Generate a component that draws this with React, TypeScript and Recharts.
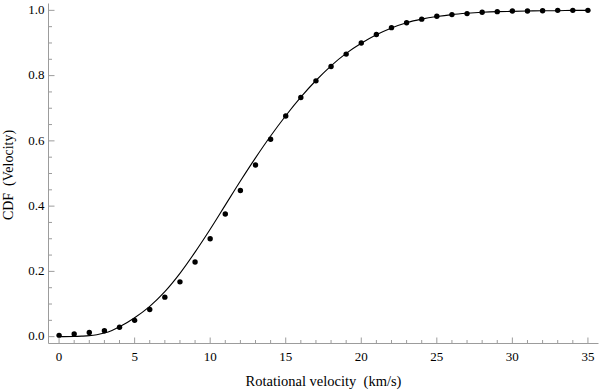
import React from 'react';
import { ComposedChart, XAxis, YAxis, Line, Scatter, Label } from 'recharts';

// Measured CDF points (dots)
const velocities = [
  0, 1, 2, 3, 4, 5, 6, 7, 8, 9, 10, 11, 12, 13, 14, 15, 16, 17,
  18, 19, 20, 21, 22, 23, 24, 25, 26, 27, 28, 29, 30, 31, 32, 33, 34, 35,
];
const cdfPoints = [
  0.004, 0.008, 0.013, 0.018, 0.029, 0.05, 0.083, 0.121, 0.168, 0.229, 0.3, 0.376,
  0.448, 0.526, 0.605, 0.676, 0.733, 0.784, 0.828, 0.866, 0.9, 0.926, 0.947, 0.962,
  0.973, 0.982, 0.987, 0.99, 0.994, 0.996, 0.998, 0.998, 0.999, 1.0, 1.0, 1.0,
];

// Model curve (solid line)
const curveVelocities = [
  0, 1, 1.5, 2, 2.5, 3, 3.5, 4, 5, 6, 7, 8, 9, 10, 11, 12, 13, 14, 15, 16, 17,
  18, 19, 20, 21, 22, 23, 24, 25, 26, 27, 28, 29, 30, 31, 32, 33, 34, 35,
];
const curveCdf = [
  0, 0.0005, 0.0015, 0.003, 0.006, 0.011, 0.019, 0.03, 0.058, 0.093, 0.138, 0.194,
  0.259, 0.329, 0.403, 0.477, 0.548, 0.615, 0.677, 0.734, 0.785, 0.83, 0.868, 0.899,
  0.925, 0.946, 0.962, 0.973, 0.981, 0.987, 0.991, 0.994, 0.996, 0.997, 0.998, 0.999,
  0.999, 1.0, 1.0,
];

const xMajorTicks = [0, 5, 10, 15, 20, 25, 30, 35];
const xTickLabels = ['0', '5', '10', '15', '20', '25', '30', '35'];
const xMinorTicks = [
  0, 1, 2, 3, 4, 5, 6, 7, 8, 9, 10, 11, 12, 13, 14, 15, 16, 17,
  18, 19, 20, 21, 22, 23, 24, 25, 26, 27, 28, 29, 30, 31, 32, 33, 34, 35,
];
const yMajorTicks = [0, 0.2, 0.4, 0.6, 0.8, 1.0];
const yTickLabels = ['0.0', '0.2', '0.4', '0.6', '0.8', '1.0'];
const yMinorTicks = [
  0, 0.05, 0.1, 0.15, 0.2, 0.25, 0.3, 0.35, 0.4, 0.45, 0.5, 0.55, 0.6, 0.65, 0.7,
  0.75, 0.8, 0.85, 0.9, 0.95, 1.0,
];
const xTitle = 'Rotational velocity  (km/s)';
const yTitle = 'CDF  (Velocity)';

const dotData = velocities.map((v, i) => ({ x: v, y: cdfPoints[i] }));
const curveData = curveVelocities.map((v, i) => ({ x: v, y: curveCdf[i] }));

const FRAME = '#9c9c9c';
const FONT = '"Liberation Serif", "Times New Roman", serif';
const MAJOR = 6;
const MINOR = 3.5;

function BottomTick(props: any) {
  const { x, y, payload } = props;
  const i = xMajorTicks.indexOf(payload.value);
  return (
    <g>
      <line x1={x} x2={x} y1={y} y2={y - (i >= 0 ? MAJOR : MINOR)} stroke={FRAME} strokeWidth={1} />
      {i >= 0 && (
        <text x={x} y={y + 17} textAnchor="middle" fontFamily={FONT} fontSize={13} fill="#000">
          {xTickLabels[i]}
        </text>
      )}
    </g>
  );
}

function TopTick(props: any) {
  const { x, y, payload } = props;
  const i = xMajorTicks.indexOf(payload.value);
  return <line x1={x} x2={x} y1={y} y2={y + (i >= 0 ? MAJOR : MINOR)} stroke={FRAME} strokeWidth={1} />;
}

function LeftTick(props: any) {
  const { x, y, payload } = props;
  const i = yMajorTicks.indexOf(payload.value);
  return (
    <g>
      <line x1={x} x2={x + (i >= 0 ? MAJOR : MINOR)} y1={y} y2={y} stroke={FRAME} strokeWidth={1} />
      {i >= 0 && (
        <text x={x - 4} y={y + 3.8} textAnchor="end" fontFamily={FONT} fontSize={13} fill="#000">
          {yTickLabels[i]}
        </text>
      )}
    </g>
  );
}

function RightTick(props: any) {
  const { x, y, payload } = props;
  const i = yMajorTicks.indexOf(payload.value);
  return <line x1={x} x2={x - (i >= 0 ? MAJOR : MINOR)} y1={y} y2={y} stroke={FRAME} strokeWidth={1} />;
}

function XTitle() {
  return (
    <text x={323.5} y={386} textAnchor="middle" fontFamily={FONT} fontSize={14.5} fill="#000" style={{ whiteSpace: 'pre' }}>
      {xTitle}
    </text>
  );
}

function YTitle() {
  return (
    <text
      x={13}
      y={175}
      transform="rotate(-90, 13, 175)"
      textAnchor="middle"
      fontFamily={FONT}
      fontSize={14}
      fill="#000"
      style={{ whiteSpace: 'pre' }}
    >
      {yTitle}
    </text>
  );
}

const Dot = (props: any) => <circle cx={props.cx} cy={props.cy} r={2.7} fill="#000" />;

export default function App() {
  const xDomain: [number, number] = [-0.7, 35.7];
  const yDomain: [number, number] = [-0.021, 1.021];
  return (
    <div style={{ width: 600, height: 391 }}>
      <style>{'body{margin:0;background:#fff}'}</style>
      <ComposedChart width={600} height={391} margin={{ top: 3.5, right: 1.5, bottom: 0, left: 0 }}>
        <XAxis
          xAxisId="bottom"
          dataKey="x"
          type="number"
          domain={xDomain}
          allowDataOverflow
          ticks={xMinorTicks}
          interval={0}
          height={47.5}
          tickSize={0}
          tickMargin={0}
          tickLine={false}
          axisLine={{ stroke: FRAME }}
          tick={<BottomTick />}
        >
          <Label content={<XTitle />} />
        </XAxis>
        <XAxis
          xAxisId="top"
          orientation="top"
          dataKey="x"
          type="number"
          domain={xDomain}
          allowDataOverflow
          ticks={xMinorTicks}
          interval={0}
          height={0}
          tickSize={0}
          tickMargin={0}
          tickLine={false}
          axisLine={{ stroke: FRAME }}
          tick={<TopTick />}
        />
        <YAxis
          yAxisId="left"
          type="number"
          domain={yDomain}
          allowDataOverflow
          ticks={yMinorTicks}
          interval={0}
          width={48.5}
          tickSize={0}
          tickMargin={0}
          tickLine={false}
          axisLine={{ stroke: FRAME }}
          tick={<LeftTick />}
        >
          <Label content={<YTitle />} />
        </YAxis>
        <YAxis
          yAxisId="right"
          orientation="right"
          type="number"
          domain={yDomain}
          allowDataOverflow
          ticks={yMinorTicks}
          interval={0}
          width={0}
          tickSize={0}
          tickMargin={0}
          tickLine={false}
          axisLine={{ stroke: FRAME }}
          tick={<RightTick />}
        />
        <Line
          xAxisId="bottom"
          yAxisId="left"
          data={curveData}
          dataKey="y"
          type="monotone"
          stroke="#000"
          strokeWidth={1.1}
          dot={false}
          activeDot={false}
          isAnimationActive={false}
        />
        <Scatter
          xAxisId="bottom"
          yAxisId="left"
          data={dotData}
          dataKey="y"
          shape={<Dot />}
          isAnimationActive={false}
        />
      </ComposedChart>
    </div>
  );
}
